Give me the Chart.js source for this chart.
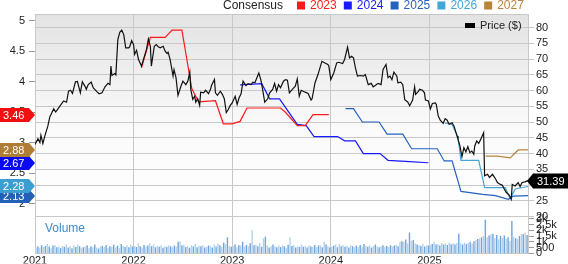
<!DOCTYPE html>
<html>
<head>
<meta charset="utf-8">
<script src="https://cdn.jsdelivr.net/npm/chart.js@4.4.1/dist/chart.umd.min.js"></script>
<style>
  html, body { margin: 0; padding: 0; background: #fff; }
  #wrap { width: 568px; height: 264px; }
</style>
</head>
<body>
<div id="wrap"><canvas id="chart" width="568" height="264"></canvas></div>
<script>
'use strict';

// ── Price (right axis), dates as decimal years ─────────────
const priceDates = [
  2021.00, 2021.03, 2021.05, 2021.06, 2021.08, 2021.10, 2021.13, 2021.15, 2021.19, 2021.21,
  2021.24, 2021.29, 2021.32, 2021.34, 2021.36, 2021.38, 2021.41, 2021.43, 2021.46, 2021.48,
  2021.51, 2021.52, 2021.54, 2021.57, 2021.59, 2021.63, 2021.65, 2021.68, 2021.71, 2021.74,
  2021.76, 2021.77, 2021.78, 2021.81, 2021.82, 2021.84, 2021.86, 2021.88, 2021.90, 2021.92,
  2021.95, 2021.96, 2021.98, 2022.00, 2022.01, 2022.03, 2022.05, 2022.08, 2022.10, 2022.13,
  2022.15, 2022.17, 2022.18, 2022.21, 2022.23, 2022.25, 2022.27, 2022.30, 2022.32, 2022.34,
  2022.35, 2022.37, 2022.40, 2022.41, 2022.43, 2022.45, 2022.48, 2022.50, 2022.53, 2022.55,
  2022.57, 2022.58, 2022.60, 2022.62, 2022.63, 2022.65, 2022.67, 2022.68, 2022.71, 2022.73,
  2022.76, 2022.78, 2022.79, 2022.82, 2022.83, 2022.85, 2022.88, 2022.90, 2022.92, 2022.94,
  2022.96, 2022.98, 2023.00, 2023.03, 2023.05, 2023.07, 2023.09, 2023.11, 2023.14, 2023.16,
  2023.19, 2023.21, 2023.23, 2023.27, 2023.29, 2023.31, 2023.33, 2023.36, 2023.38, 2023.41,
  2023.43, 2023.45, 2023.47, 2023.49, 2023.52, 2023.54, 2023.56, 2023.58, 2023.61, 2023.64,
  2023.66, 2023.68, 2023.70, 2023.74, 2023.77, 2023.80, 2023.81, 2023.84, 2023.87, 2023.89,
  2023.91, 2023.94, 2023.97, 2023.98, 2024.00, 2024.03, 2024.06, 2024.08, 2024.12, 2024.14,
  2024.17, 2024.19, 2024.21, 2024.23, 2024.25, 2024.27, 2024.30, 2024.33, 2024.35, 2024.38,
  2024.41, 2024.43, 2024.45, 2024.48, 2024.51, 2024.53, 2024.56, 2024.58, 2024.60, 2024.62,
  2024.64, 2024.67, 2024.68, 2024.71, 2024.73, 2024.75, 2024.78, 2024.80, 2024.83, 2024.85,
  2024.86, 2024.89, 2024.90, 2024.93, 2024.95, 2024.96, 2024.99, 2025.01, 2025.03, 2025.06,
  2025.07, 2025.09, 2025.11, 2025.14, 2025.16, 2025.18, 2025.20, 2025.23, 2025.25, 2025.28,
  2025.29, 2025.31, 2025.33, 2025.35, 2025.37, 2025.39, 2025.41, 2025.43, 2025.45, 2025.46,
  2025.48, 2025.50, 2025.52, 2025.55, 2025.56, 2025.59, 2025.61, 2025.64, 2025.67, 2025.69,
  2025.72, 2025.74, 2025.76, 2025.78, 2025.81, 2025.83, 2025.84, 2025.87, 2025.90, 2025.92,
  2025.94, 2025.97, 2026.00
];
const prices = [
  42.9, 44.7, 43.5, 45.8, 43.2, 45.6, 48.7, 51.6, 54.2, 53.2,
  54.5, 56.7, 56.3, 59.8, 60.1, 59.1, 62.8, 62.9, 59.3, 62.8,
  61.2, 60.4, 61.9, 62.7, 60.9, 59.6, 59.0, 59.3, 61.2, 62.3,
  61.9, 67.8, 64.8, 65.4, 65.0, 76.2, 78.5, 79.2, 77.8, 73.6,
  73.6, 73.9, 75.9, 74.6, 71.5, 72.8, 69.9, 67.8, 69.9, 73.0,
  76.4, 74.1, 67.8, 74.1, 74.6, 73.9, 73.6, 74.1, 72.5, 71.8,
  72.2, 69.9, 64.6, 66.7, 64.1, 58.5, 61.4, 63.0, 61.9, 63.0,
  65.9, 60.4, 57.2, 58.2, 56.3, 57.4, 55.3, 59.5, 59.3, 60.1,
  59.0, 60.4, 61.6, 63.5, 59.3, 58.5, 59.8, 58.8, 57.4, 53.0,
  54.0, 55.3, 56.1, 58.2, 55.6, 57.7, 59.0, 63.0, 61.6, 62.2,
  61.9, 62.7, 62.5, 65.6, 63.5, 60.1, 56.3, 57.4, 59.3, 60.4,
  62.3, 59.8, 61.9, 60.9, 63.0, 63.5, 63.3, 59.3, 60.4, 61.4,
  63.7, 58.2, 60.1, 59.5, 59.1, 57.0, 57.4, 62.5, 65.1, 67.2,
  69.3, 68.8, 68.3, 67.8, 63.5, 65.6, 68.8, 69.0, 68.6, 69.9,
  73.8, 70.4, 70.9, 70.4, 67.2, 64.6, 64.8, 64.6, 65.1, 61.9,
  62.3, 61.2, 61.6, 62.3, 61.9, 66.7, 68.3, 64.1, 64.6, 63.5,
  65.9, 64.6, 62.5, 62.7, 61.9, 57.1, 56.4, 55.2, 57.0, 61.2,
  58.8, 59.8, 60.4, 60.1, 59.3, 57.0, 56.7, 54.2, 55.9, 56.1,
  55.6, 51.9, 50.6, 49.6, 51.1, 50.6, 49.3, 49.8, 48.7, 45.6,
  44.5, 42.4, 39.0, 41.9, 40.5, 42.2, 40.3, 40.8, 39.8, 42.4,
  44.0, 43.2, 44.5, 46.6, 32.9, 33.4, 32.4, 33.4, 32.0, 30.8,
  30.2, 29.9, 28.7, 27.6, 26.8, 25.5, 30.2, 29.7, 30.8, 29.5,
  30.8, 31.0, 31.39
];

// ── Consensus EPS estimates (left axis) ────────────────────
const eps2023Dates = [2022.08, 2022.17, 2022.32, 2022.39, 2022.49, 2022.59, 2022.66, 2022.83, 2022.91, 2023.00, 2023.08, 2023.15, 2023.49, 2023.54, 2023.66, 2023.74, 2023.82, 2023.98];
const eps2023 =      [4.23,    4.73,    4.73,    4.85,    4.85,    3.89,    3.67,    3.69,    3.31,    3.31,    3.35,    3.57,    3.57,    3.50,    3.28,    3.28,    3.46,    3.46];

const eps2024Dates = [2023.08, 2023.30, 2023.38, 2023.48, 2023.66, 2023.75, 2023.83, 2024.07, 2024.14, 2024.25, 2024.33, 2024.50, 2024.58, 2024.80, 2024.99];
const eps2024 =      [3.95,    3.97,    3.72,    3.72,    3.30,    3.28,    3.10,    3.10,    3.03,    3.03,    2.82,    2.82,    2.71,    2.69,    2.67];

const eps2025Dates = [2024.15, 2024.23, 2024.32, 2024.49, 2024.57, 2024.73, 2024.82, 2025.08, 2025.15, 2025.23, 2025.32, 2025.54, 2025.67, 2025.80, 2025.85, 2026.00];
const eps2025 =      [3.56,    3.56,    3.34,    3.34,    3.14,    3.14,    2.90,    2.90,    2.70,    2.70,    2.20,    2.15,    2.13,    2.07,    2.12,    2.13];

const eps2026Dates = [2025.16, 2025.23, 2025.29, 2025.32, 2025.50, 2025.56, 2025.77, 2025.82, 2025.87, 2026.00];
const eps2026 =      [3.32,    3.30,    3.09,    2.71,    2.71,    2.26,    2.26,    2.08,    2.24,    2.28];

const eps2027Dates = [2025.57, 2025.69, 2025.82, 2025.90, 2026.00];
const eps2027 =      [2.78,    2.78,    2.75,    2.88,    2.88];

// ── Weekly volume ─────────────────────────────────────────
const vol2021 = [
  520, 610, 480, 700, 560, 640, 820, 590, 450, 680, 730, 540, 600,
  470, 650, 580, 760, 520, 610, 440, 690, 560, 800, 620, 480, 530,
  590, 700, 460, 620, 540, 780, 510, 430, 600, 670, 550, 720, 490,
  610, 580, 740, 500, 660, 450, 820, 640, 560, 700, 530, 780, 600
];
const vol2022 = [
  650, 560, 870, 620, 500, 720, 590, 680, 860, 610, 760, 540, 630,
  580, 710, 490, 640, 560, 700, 620, 540, 680, 600, 1000, 1050, 700,
  740, 560, 630, 480, 700, 590, 820, 540, 660, 610, 720, 500, 580,
  690, 630, 520, 780, 600, 860, 710, 560, 940, 820, 1400, 650, 580
];
const vol2023 = [
  620, 760, 540, 700, 680, 1000, 590, 720, 640, 880, 2000, 700, 760,
  620, 900, 580, 1300, 1450, 690, 520, 640, 780, 600, 540, 680, 560,
  700, 620, 480, 740, 1400, 650, 700, 520, 610, 560, 760, 580, 640,
  520, 700, 600, 560, 720, 560, 680, 700, 540, 1000, 760, 620, 500
];
const vol2024 = [
  580, 660, 760, 540, 820, 620, 700, 580, 640, 520, 690, 610, 560,
  680, 540, 720, 600, 820, 640, 580, 700, 520, 660, 760, 600, 540,
  620, 700, 580, 640, 560, 700, 600, 680, 740, 620, 1000, 1050, 1000,
  1200, 880, 1800, 1100, 1150, 860, 760, 700, 640, 820, 600, 700, 680
];
const vol2025 = [
  700, 820, 1000, 760, 820, 680, 900, 760, 860, 720, 940, 800, 880,
  760, 900, 1700, 880, 760, 940, 820, 900, 1000, 860, 1050, 1150, 1250,
  1300, 1400, 1500, 2900, 1400, 1550, 1650, 1700, 1300, 1600, 1200, 1500, 1350,
  1550, 1250, 1400, 1100, 2800, 1450, 1300, 1250, 1500, 1700, 1650, 1800, 1600
];

// ── Axis ticks ────────────────────────────────────────────
const yearTicks  = [2021, 2022, 2023, 2024, 2025];
const epsTicks   = [2, 2.5, 3, 3.5, 4, 4.5, 5];
const priceTicks = [20, 25, 30, 35, 40, 45, 50, 55, 60, 65, 70, 75, 80];
const volTicks   = [0, 500, 1000, 1500, 2000, 2500, 3000];
const volLabels  = ['0', '500', '1k', '1.5k', '2k', '2.5k', '3k'];

const consensusYears  = ['2023', '2024', '2025', '2026', '2027'];
const consensusColors = ['#ff1a1a', '#1a1aff', '#2462bf', '#42a6d6', '#b8843a'];
const tagColors       = ['#f01010', '#0a0af0', '#2360b8', '#3a9fd0', '#b07d35'];

// ─────────────────────────────────────────────────────────
Chart.defaults.font.family = '"Liberation Sans", Arial, sans-serif';
Chart.defaults.font.size = 11;
Chart.defaults.color = '#222';

const GRID = '#c8c8c8';
const FONT = '"Liberation Sans", Arial, sans-serif';

const toXY = (xs, ys) => xs.map((x, i) => ({ x: x, y: ys[i] }));
const volumes = [].concat(vol2021, vol2022, vol2023, vol2024, vol2025);
const volPoints = volumes.map((v, i) => ({ x: 2021 + (i + 0.5) / 52, y: v }));

const epsSeries = [
  toXY(eps2023Dates, eps2023),
  toXY(eps2024Dates, eps2024),
  toXY(eps2025Dates, eps2025),
  toXY(eps2026Dates, eps2026),
  toXY(eps2027Dates, eps2027)
];

const epsDatasets = epsSeries.map((pts, i) => ({
  type: 'line',
  label: consensusYears[i],
  data: pts,
  yAxisID: 'yE',
  borderColor: consensusColors[i],
  borderWidth: 1.2,
  pointRadius: 0,
  tension: 0,
  order: 1
}));

const fixTicks = (list) => (scale) => { scale.ticks = list.map(v => ({ value: v })); };

// background gradient in the price panel
const panelBg = {
  id: 'panelBg',
  beforeDraw(chart) {
    const { ctx, chartArea: a } = chart;
    const yBottom = chart.scales.yP.getPixelForValue(20);
    ctx.save();
    ctx.fillStyle = '#fff';
    ctx.fillRect(0, 0, chart.width, chart.height);
    const g = ctx.createLinearGradient(0, a.top, 0, yBottom);
    g.addColorStop(0, '#e3e3e3');
    g.addColorStop(0.55, '#fafafa');
    g.addColorStop(1, '#ffffff');
    ctx.fillStyle = g;
    ctx.fillRect(a.left, a.top, a.right - a.left, yBottom - a.top);
    ctx.restore();
  }
};

function leftTag(ctx, y, color, text) {
  ctx.fillStyle = color;
  ctx.beginPath();
  ctx.moveTo(0, y - 7);
  ctx.lineTo(29, y - 7);
  ctx.lineTo(35, y);
  ctx.lineTo(29, y + 7);
  ctx.lineTo(0, y + 7);
  ctx.closePath();
  ctx.fill();
  ctx.fillStyle = '#fff';
  ctx.textAlign = 'left';
  ctx.fillText(text, 3, y + 0.5);
}

// legends, labels and value tags
const overlay = {
  id: 'overlay',
  afterDraw(chart) {
    const { ctx, chartArea: a } = chart;
    ctx.save();

    // top border of the plot
    ctx.strokeStyle = GRID;
    ctx.lineWidth = 1;
    ctx.beginPath();
    ctx.moveTo(a.left, a.top + 0.5);
    ctx.lineTo(a.right, a.top + 0.5);
    ctx.stroke();

    // top legend
    ctx.textBaseline = 'middle';
    ctx.font = '12px ' + FONT;
    ctx.fillStyle = '#222';
    ctx.textAlign = 'left';
    ctx.fillText('Consensus', 223, 6);
    consensusYears.forEach((yr, i) => {
      const x = 297 + i * 46.8;
      ctx.fillStyle = consensusColors[i];
      ctx.fillRect(x, 1.5, 8, 8);
      ctx.fillText(yr, x + 13, 6);
    });

    // price legend
    ctx.font = '11px ' + FONT;
    ctx.fillStyle = '#000';
    ctx.fillRect(465, 23, 10, 5);
    ctx.fillStyle = '#222';
    ctx.fillText('Price ($)', 480, 26);

    // volume axis labels (share the right edge with the price axis)
    const yV = chart.scales.yV;
    ctx.fillStyle = '#222';
    volTicks.forEach((v, i) => {
      ctx.fillText(volLabels[i], a.right + 8, yV.getPixelForValue(v));
    });

    // volume label
    ctx.font = '12px ' + FONT;
    ctx.fillStyle = '#3a8ccf';
    ctx.fillText('Volume', 45, 229);

    // consensus value tags on the left
    ctx.font = '11px ' + FONT;
    const yE = chart.scales.yE;
    epsSeries.forEach((pts, i) => {
      const last = pts[pts.length - 1].y;
      leftTag(ctx, Math.round(yE.getPixelForValue(last)), tagColors[i], last.toFixed(2));
    });

    // last price tag on the right
    const lastPrice = prices[prices.length - 1];
    const py = Math.round(chart.scales.yP.getPixelForValue(lastPrice));
    ctx.fillStyle = '#000';
    ctx.beginPath();
    ctx.moveTo(527, py);
    ctx.lineTo(533, py - 7.5);
    ctx.lineTo(568, py - 7.5);
    ctx.lineTo(568, py + 7.5);
    ctx.lineTo(533, py + 7.5);
    ctx.closePath();
    ctx.fill();
    ctx.fillStyle = '#fff';
    ctx.textAlign = 'left';
    ctx.fillText(lastPrice.toFixed(2), 537, py + 0.5);

    ctx.restore();
  }
};

new Chart(document.getElementById('chart'), {
  type: 'line',
  data: {
    datasets: [
      {
        type: 'line',
        label: 'Price ($)',
        data: toXY(priceDates, prices),
        yAxisID: 'yP',
        borderColor: '#111',
        borderWidth: 1.2,
        pointRadius: 0,
        tension: 0,
        order: 0
      },
      ...epsDatasets,
      {
        type: 'bar',
        label: 'Volume',
        data: volPoints,
        yAxisID: 'yV',
        backgroundColor: (c) => (c.dataIndex % 2 ? '#6fa7dc' : '#b5d1ed'),
        borderWidth: 0,
        barPercentage: 0.75,
        categoryPercentage: 1,
        order: 2
      }
    ]
  },
  options: {
    responsive: false,
    animation: false,
    layout: { padding: { top: 14, left: 0, right: 0, bottom: 0 } },
    plugins: {
      legend: { display: false },
      tooltip: { enabled: false }
    },
    scales: {
      x: {
        type: 'linear',
        min: 2021,
        max: 2026,
        offset: false,
        afterBuildTicks: fixTicks(yearTicks),
        afterFit: (s) => { s.height = 10; },
        grid: { color: GRID, drawTicks: false, offset: false },
        border: { color: GRID },
        ticks: { padding: 1, autoSkip: false, maxRotation: 0, callback: (v) => String(v) }
      },
      yE: {
        type: 'linear',
        position: 'left',
        min: 1.18,
        max: 5.115,
        afterBuildTicks: fixTicks(epsTicks),
        afterFit: (s) => { s.width = 35; },
        grid: { drawOnChartArea: false, tickLength: 6, color: '#999' },
        border: { color: GRID },
        ticks: { padding: 4, autoSkip: false, callback: (v) => String(v) }
      },
      yV: {
        type: 'linear',
        position: 'right',
        weight: 0,
        min: 0,
        max: 20700,
        afterBuildTicks: fixTicks(volTicks),
        afterFit: (s) => { s.width = 0; },
        grid: { drawOnChartArea: false, tickLength: 6, color: '#999' },
        border: { display: false },
        ticks: { display: false, autoSkip: false }
      },
      yP: {
        type: 'linear',
        position: 'right',
        weight: 1,
        min: 8.27,
        max: 84.34,
        afterBuildTicks: fixTicks(priceTicks),
        afterFit: (s) => { s.width = 40; },
        grid: { color: GRID, tickLength: 6 },
        border: { color: GRID },
        ticks: { padding: 2, autoSkip: false, callback: (v) => String(v) }
      }
    }
  },
  plugins: [panelBg, overlay]
});
</script>
</body>
</html>
